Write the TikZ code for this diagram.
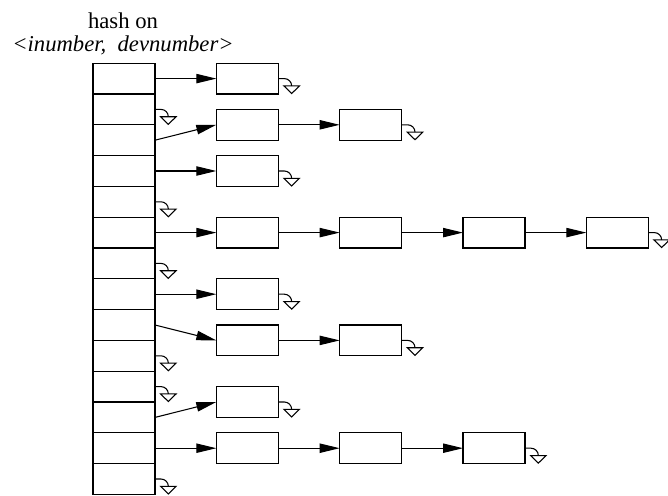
\documentclass[tikz,border=0pt]{standalone}
\usepackage{fontspec}
\setmainfont{Liberation Serif}
\usepackage{tikz}
\usetikzlibrary{arrows.meta, positioning}
\tikzset{
  box/.style={rectangle, draw=black, line width=0.8pt, inner sep=0pt, outer sep=0pt, minimum width=46.5pt, minimum height=23.1pt},
  slot/.style={box},
  cell/.style={box},
  ptr/.style={-{Triangle[length=15pt, width=7pt]}, line width=0.8pt},
  hashtxt/.style={align=center, font=\fontsize{17}{17.3}\selectfont, inner sep=0pt},
  nil/.pic={
    \draw[line width=0.8pt] (0,0) -- (4.5pt,0) arc[start angle=90, end angle=0, radius=5.5pt];
    \draw[line width=0.8pt] (4.2pt,-5.5pt) -- (15.8pt,-5.5pt) -- (10pt,-11.2pt) -- cycle;
  },
}
\begin{document}
\begin{tikzpicture}[x=0.75pt, y=-0.75pt, node distance=46pt]
  \useasboundingbox (0,0) rectangle (668,496);
  \node[hashtxt] (title) at (123,33.5) {hash on\\ \textit{<inumber,\ \ devnumber>}};
  % hash table
  \foreach \i in {0,...,13}
    \node[slot] (t\i) at (124,{78.6+30.8*\i}) {};
  % chains
  \node[cell, right=of t0] (a0) {};
  \node[cell, right=of t2, yshift=11.55pt] (b0) {};
  \node[cell, right=of b0] (b1) {};
  \node[cell, right=of t3] (c0) {};
  \node[cell, right=of t5] (d0) {};
  \node[cell, right=of d0] (d1) {};
  \node[cell, right=of d1] (d2) {};
  \node[cell, right=of d2] (d3) {};
  \node[cell, right=of t7] (e0) {};
  \node[cell, right=of t8, yshift=-11.55pt] (f0) {};
  \node[cell, right=of f0] (f1) {};
  \node[cell, right=of t11, yshift=11.55pt] (g0) {};
  \node[cell, right=of t12] (h0) {};
  \node[cell, right=of h0] (h1) {};
  \node[cell, right=of h1] (h2) {};
  % pointers
  \draw[ptr] (t0.east) -- (a0.west);
  \draw[ptr] (t2.east) -- (b0.west);
  \draw[ptr] (b0.east) -- (b1.west);
  \draw[ptr] (t3.east) -- (c0.west);
  \draw[ptr] (t5.east) -- (d0.west);
  \draw[ptr] (d0.east) -- (d1.west);
  \draw[ptr] (d1.east) -- (d2.west);
  \draw[ptr] (d2.east) -- (d3.west);
  \draw[ptr] (t7.east) -- (e0.west);
  \draw[ptr] (t8.east) -- (f0.west);
  \draw[ptr] (f0.east) -- (f1.west);
  \draw[ptr] (t11.east) -- (g0.west);
  \draw[ptr] (t12.east) -- (h0.west);
  \draw[ptr] (h0.east) -- (h1.west);
  \draw[ptr] (h1.east) -- (h2.west);
  % null ends
  \foreach \n in {t1,t4,t6,t9,t10,t13,a0,b1,c0,d3,e0,f1,g0,h2}
    \pic at (\n.east) {nil};
\end{tikzpicture}
\end{document}
